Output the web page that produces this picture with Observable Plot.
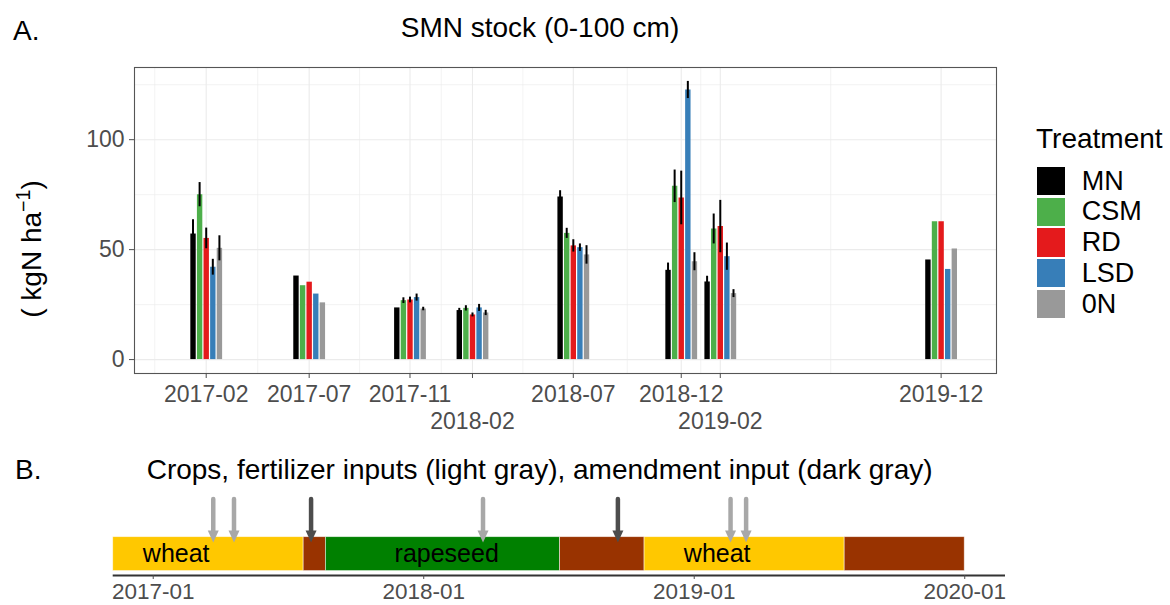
<!DOCTYPE html>
<html>
<head>
<meta charset="utf-8">
<script src="https://cdn.jsdelivr.net/npm/d3@7"></script>
<script src="https://cdn.jsdelivr.net/npm/@observablehq/plot@0.6"></script>
<style>
  html, body { margin: 0; padding: 0; background: #fff; }
  #root { position: relative; width: 1170px; height: 605px; overflow: hidden;
          font-family: "Liberation Sans", Arial, sans-serif; background: #fff; }
  .abs { position: absolute; white-space: nowrap; line-height: 1; }
  .abs sup { font-size: 0.7em; vertical-align: 0.55em; line-height: 0; }
</style>
</head>
<body>
<div id="root"></div>
<script>
// ---------------- Panel A data ----------------
const sampleDates = ["2017-02-14", "2017-07-09", "2017-11-28", "2018-02-24",
                     "2018-07-16", "2018-12-15", "2019-02-08", "2019-12-16"];
const tickLabelRow = [1, 1, 1, 2, 1, 1, 2, 1];
const treatments = ["MN", "CSM", "RD", "LSD", "0N"];
const treatmentColors = ["#000000", "#4DAF4A", "#E41A1C", "#377EB8", "#999999"];

const smnMN  = [57.1, 38.0, 23.5, 22.3, 73.9, 40.6, 35.3, 45.3];
const smnCSM = [75.0, 33.6, 26.8, 23.3, 57.4, 78.8, 59.4, 62.7];
const smnRD  = [55.1, 35.2, 27.1, 20.3, 51.7, 73.5, 60.5, 62.7];
const smnLSD = [42.0, 29.8, 28.2, 23.5, 50.9, 122.6, 46.8, 41.0];
const smn0N  = [50.6, 25.8, 23.0, 21.2, 47.6, 44.5, 30.0, 50.3];

const seMN  = [6.5, null, null, 1.0, 2.9, 3.3, 2.6, null];
const seCSM = [5.5, null, 1.3, 1.2, 2.3, 7.4, 6.8, null];
const seRD  = [4.7, null, 1.3, 0.9, 2.8, 12.2, 11.9, null];
const seLSD = [3.6, null, 1.6, 1.6, 1.7, 3.9, 6.2, null];
const se0N  = [5.7, null, 0.8, 1.2, 4.2, 4.1, 1.8, null];

const xDomainA = ["2016-11-05", "2020-03-03"];

// ---------------- Panel B data ----------------
const cropStart = ["2016-11-08", "2017-07-23", "2017-08-22", "2018-07-04", "2018-10-26", "2019-07-23"];
const cropEnd   = ["2017-07-23", "2017-08-22", "2018-07-04", "2018-10-26", "2019-07-23", "2020-01-01"];
const cropType  = ["wheat", "fallow", "rapeseed", "fallow", "wheat", "fallow"];
const cropLabelDates = ["2017-02-01", "2018-02-01", "2019-02-01"];
const cropLabels = ["wheat", "rapeseed", "wheat"];
const inputDates = ["2017-03-23", "2017-04-20", "2017-08-02", "2018-03-22",
                    "2018-09-20", "2019-02-19", "2019-03-12"];
const inputType = ["fertilizer", "fertilizer", "amendment", "fertilizer",
                   "amendment", "fertilizer", "fertilizer"];
const bTicks = ["2017-01-01", "2018-01-01", "2019-01-01", "2020-01-01"];
const xDomainB = ["2016-11-08", "2020-02-25"];
const bCategories = ["wheat", "rapeseed", "fallow", "fertilizer", "amendment"];
const bColors = ["#FFC800", "#008000", "#993300", "#A8A8A8", "#4D4D4D"];

// ---------------- helpers ----------------
const FONT = "Liberation Sans, Arial, sans-serif";
const root = document.getElementById("root");
const parseDate = d3.utcParse("%Y-%m-%d");
const fmt = d3.utcFormat("%Y-%m");

function addText(html, x, baseline, size, opts = {}) {
  const d = document.createElement("div");
  d.className = "abs";
  d.innerHTML = html;
  d.style.fontSize = size + "px";
  d.style.left = x + "px";
  d.style.top = (baseline - 0.8465 * size) + "px";
  d.style.color = opts.color || "#000";
  if (opts.center) d.style.transform = "translateX(-50%)";
  root.appendChild(d);
  return d;
}

// ---------------- Panel A ----------------
const dates = sampleDates.map(parseDate);
const smnValues = [smnMN, smnCSM, smnRD, smnLSD, smn0N];
const smnErrors = [seMN, seCSM, seRD, seLSD, se0N];
const rows = treatments.flatMap((t, i) => dates.map((d, j) => ({
  date: d, treatment: t, index: i, value: smnValues[i][j], se: smnErrors[i][j]
})));
const yMax = d3.max(rows, r => r.value + (r.se ?? 0));

const minorX = [new Date(+dates[0] - (dates[1] - dates[0]) / 2),
  ...dates.slice(1).map((d, j) => new Date((+d + +dates[j]) / 2))];
const row1 = dates.filter((d, j) => tickLabelRow[j] === 1);
const row2 = dates.filter((d, j) => tickLabelRow[j] === 2);

const pitch = 6.6;
const barMarks = treatments.flatMap((t, i) => {
  const sub = rows.filter(r => r.index === i);
  const dx = (i - (treatments.length - 1) / 2) * pitch;
  return [
    Plot.ruleX(sub, {x: "date", y1: () => 0, y2: "value", stroke: "treatment", strokeWidth: 5.4, dx}),
    Plot.ruleX(sub.filter(r => r.se != null), {
      x: "date", y1: r => r.value - r.se, y2: r => r.value + r.se,
      stroke: "#000", strokeWidth: 2, dx
    })
  ];
});

const plotA = Plot.plot({
  width: 1010, height: 440,
  marginLeft: 134, marginRight: 14, marginTop: 67, marginBottom: 67,
  style: {background: "transparent", fontFamily: FONT, overflow: "visible"},
  x: {type: "utc", domain: xDomainA.map(parseDate)},
  y: {domain: [-0.05 * yMax, 1.05 * yMax]},
  color: {domain: treatments, range: treatmentColors},
  marks: [
    Plot.gridX(minorX, {stroke: "#EBEBEB", strokeOpacity: 1, strokeWidth: 0.6}),
    Plot.gridY([25, 75, 125], {stroke: "#EBEBEB", strokeOpacity: 1, strokeWidth: 0.6}),
    Plot.gridX(dates, {stroke: "#EBEBEB", strokeOpacity: 1, strokeWidth: 1.1}),
    Plot.gridY([0, 50, 100], {stroke: "#EBEBEB", strokeOpacity: 1, strokeWidth: 1.1}),
    ...barMarks,
    Plot.frame({stroke: "#555", strokeWidth: 1.1}),
    Plot.axisY([0, 50, 100], {tickSize: 5, tickPadding: 5, fontSize: 23, color: "#4D4D4D", label: null}),
    Plot.axisX(row1, {tickSize: 5, tickPadding: 7, fontSize: 23, color: "#4D4D4D", tickFormat: fmt, label: null}),
    Plot.axisX(row2, {tickSize: 5, tickPadding: 34, fontSize: 23, color: "#4D4D4D", tickFormat: fmt, label: null})
  ]
});
const wrapA = document.createElement("div");
wrapA.style.cssText = "position:absolute;left:0;top:0;";
wrapA.appendChild(plotA);
root.appendChild(wrapA);

// ---------------- Panel B ----------------
const crops = cropType.map((t, i) => ({start: parseDate(cropStart[i]), end: parseDate(cropEnd[i]), type: t}));
const labels = cropLabels.map((l, i) => ({date: parseDate(cropLabelDates[i]), label: l}));
const inputs = inputType.map((t, i) => ({date: parseDate(inputDates[i]), type: t}));

const BAND_LO = 0.13, BAND_HI = 1.13, ARROW_TOP = 2.24, ARROW_TIP = 0.97, SHAFT_END = 1.3;
const arrowHead = {
  draw(ctx) { ctx.moveTo(0, 0); ctx.lineTo(-5.5, -12); ctx.lineTo(5.5, -12); ctx.closePath(); }
};

const plotB = Plot.plot({
  width: 1010, height: 125,
  marginLeft: 112.7, marginRight: 5, marginTop: 0, marginBottom: 30,
  style: {background: "transparent", fontFamily: FONT, overflow: "visible"},
  x: {type: "utc", domain: xDomainB.map(parseDate)},
  y: {domain: [0, 2.8], axis: null},
  color: {domain: bCategories, range: bColors},
  marks: [
    Plot.rect(crops, {x1: "start", x2: "end", y1: () => BAND_LO, y2: () => BAND_HI,
      fill: "type", stroke: "#fff", strokeOpacity: 0.6, strokeWidth: 0.8}),
    Plot.text(labels, {x: "date", y: () => (BAND_LO + BAND_HI) / 2, text: "label",
      fontSize: 25, fill: "#000"}),
    Plot.ruleX(inputs, {x: "date", y1: () => SHAFT_END, y2: () => ARROW_TOP,
      stroke: "type", strokeWidth: 4.5, strokeLinecap: "round"}),
    Plot.dot(inputs, {x: "date", y: () => ARROW_TIP, symbol: arrowHead, fill: "type", r: 6}),
    Plot.ruleY([0], {stroke: "#333", strokeWidth: 2}),
    Plot.axisX(bTicks.map(parseDate), {tickSize: 4, tickPadding: 4, fontSize: 22.5,
      color: "#4D4D4D", tickFormat: fmt, label: null})
  ]
});
const wrapB = document.createElement("div");
wrapB.style.cssText = "position:absolute;left:0;top:480px;";
wrapB.appendChild(plotB);
root.appendChild(wrapB);

// ---------------- Titles & labels ----------------
addText("A.", 13, 40.7, 28);
addText("SMN stock (0-100 cm)", 540, 37.3, 28, {center: true});
addText("B.", 15, 480, 28);
addText("Crops, fertilizer inputs (light gray), amendment input (dark gray)", 539.6, 480, 28, {center: true});

const yl = document.createElement("div");
yl.className = "abs";
yl.innerHTML = "( kgN ha<sup>\u22121</sup>)";
yl.style.cssText += "font-size:28px;left:32px;top:248.5px;transform:translate(-50%,-50%) rotate(-90deg);color:#000;";
root.appendChild(yl);

// ---------------- Legend ----------------
addText("Treatment", 1036, 148.3, 28);
treatments.forEach((t, i) => {
  const top = 166.7 + i * 30.8;
  const key = document.createElement("div");
  key.style.cssText = `position:absolute;left:1036.7px;top:${top}px;width:28.3px;height:28.3px;background:${treatmentColors[i]};`;
  root.appendChild(key);
  addText(t, 1081.7, top + 14.15 + 9.7, 27);
});
</script>
</body>
</html>
